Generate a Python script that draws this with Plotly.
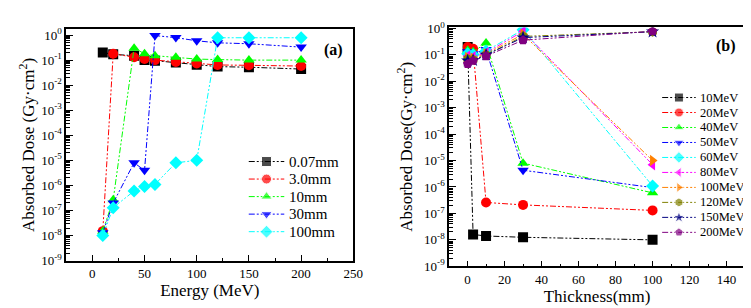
import plotly.graph_objects as go

# ---------------- data: panel (a) ----------------
energy = [10, 20, 40, 50, 60, 80, 100, 120, 150, 200]
thick_labels = ["0.07mm", "3.0mm", "10mm", "30mm", "100mm"]
a_007 = [0.2, 0.17, 0.15, 0.1, 0.095, 0.08, 0.065, 0.055, 0.052, 0.044]
a_3 = [1.5e-8, 0.18, 0.13, 0.11, 0.1, 0.085, 0.074, 0.064, 0.062, 0.058]
a_10 = [1.5e-8, 2.7e-7, 0.3, 0.18, 0.15, 0.13, 0.11, 0.105, 0.1, 0.1]
a_30 = [1.3e-8, 2.0e-7, 8e-6, 4e-6, 0.95, 0.79, 0.59, 0.49, 0.45, 0.33]
a_100 = [1.0e-8, 1.3e-7, 6e-7, 9e-7, 1.1e-6, 8e-6, 1e-5, 0.78, 0.78, 0.78]
a_series = [a_007, a_3, a_10, a_30, a_100]

# ---------------- data: panel (b) ----------------
thickness = [0.07, 3.0, 10, 30, 100]
energy_labels = ["10MeV", "20MeV", "40MeV", "50MeV", "60MeV",
                 "80MeV", "100MeV", "120MeV", "150MeV", "200MeV"]
b_10 = [0.2, 1.6e-8, 1.4e-8, 1.25e-8, 1.0e-8]
b_20 = [0.2, 0.17, 2.6e-7, 2.1e-7, 1.3e-7]
b_40 = [0.15, 0.13, 0.28, 8e-6, 6e-7]
b_50 = [0.13, 0.11, 0.16, 4.3e-6, 9.5e-7]
b_60 = [0.11, 0.1, 0.14, 0.9, 1.1e-6]
b_80 = [0.09, 0.085, 0.12, 0.78, 7e-6]
b_100 = [0.08, 0.075, 0.11, 0.6, 1e-5]
b_120 = [0.07, 0.065, 0.1, 0.5, 0.75]
b_150 = [0.06, 0.062, 0.1, 0.45, 0.75]
b_200 = [0.045, 0.06, 0.09, 0.36, 0.78]
b_series = [b_10, b_20, b_40, b_50, b_60, b_80, b_100, b_120, b_150, b_200]

colors = ["#000000", "#FF0000", "#00FF00", "#0000FF", "#00FFFF",
          "#FF00FF", "#FF8000", "#808000", "#000080", "#800080"]
symbols = ["square", "circle", "triangle-up", "triangle-down", "diamond",
           "triangle-left", "triangle-right", "hexagon", "star", "pentagon"]
DASH = "6px,2px,2px,2px,2px,2px"
FONT = "Liberation Serif"
W, H = 751, 308

fig = go.Figure()
for i, (name, ys) in enumerate(zip(thick_labels, a_series)):
    fig.add_trace(go.Scatter(
        x=energy, y=ys, name=name, mode="lines+markers", showlegend=False,
        line=dict(color=colors[i], width=1, dash=DASH),
        marker=dict(symbol=symbols[i], color=colors[i], size=10),
        xaxis="x", yaxis="y"))

for i, (name, ys) in enumerate(zip(energy_labels, b_series)):
    fig.add_trace(go.Scatter(
        x=thickness, y=ys, name=name, mode="lines+markers", showlegend=False,
        line=dict(color=colors[i], width=1, dash=DASH),
        marker=dict(symbol=symbols[i], color=colors[i], size=10),
        xaxis="x2", yaxis="y2"))

# ---------- compact legends drawn on a pixel-space overlay axis ----------
annotations = []


def add_legend(labels, x_line0, x_line1, x_text, y_first, dy, msize, fsize):
    for i, lab in enumerate(labels):
        yy = y_first + i * dy
        xm = (x_line0 + x_line1) / 2
        fig.add_trace(go.Scatter(
            x=[x_line0, xm, x_line1], y=[yy, yy, yy], mode="lines+markers",
            showlegend=False, hoverinfo="skip",
            line=dict(color=colors[i], width=1, dash=DASH),
            marker=dict(symbol=symbols[i], color=colors[i], size=[0, msize, 0]),
            xaxis="x3", yaxis="y3"))
        annotations.append(dict(text=lab, x=x_text, y=yy, xref="x3", yref="y3",
                                xanchor="left", yanchor="middle", showarrow=False,
                                font=dict(family=FONT, size=fsize, color="black")))


add_legend(thick_labels, 244, 280, 283, 153.5, 18.5, 10, 15)
add_legend(energy_labels, 663, 697, 699, 86, 15.8, 9, 12.5)

decades = list(range(-9, 1))
tickvals = [10.0 ** d for d in decades]
ticktext = ["10<sup>%d</sup>" % d for d in decades]

axis_common = dict(showline=True, linecolor="black", linewidth=1.5, mirror=True,
                   ticks="inside", tickcolor="black", showgrid=False, zeroline=False,
                   tickfont=dict(family=FONT, size=13, color="black"))

fig.update_layout(
    width=W, height=H,
    margin=dict(l=0, r=0, t=0, b=0),
    paper_bgcolor="white", plot_bgcolor="rgba(0,0,0,0)",
    font=dict(family=FONT, color="black"),
    showlegend=False,
    xaxis=dict(domain=[0.0786, 0.466], range=[-25, 250], tickvals=[0, 50, 100, 150, 200, 250],
               minor=dict(ticks="inside", dtick=25, ticklen=3, tickcolor="black"),
               ticklen=6, anchor="y",
               title=dict(text="Energy (MeV)", font=dict(family=FONT, size=17), standoff=4),
               **axis_common),
    yaxis=dict(domain=[0.1623, 0.9545], type="log", range=[-9, 0.23],
               tickvals=tickvals, ticktext=ticktext, ticklen=7, anchor="x",
               minor=dict(ticks="inside", ticklen=4, tickcolor="black", dtick="D1"),
               title=dict(text="Absorbed Dose (Gy·cm<sup>2</sup>)", font=dict(family=FONT, size=17), standoff=2),
               **axis_common),
    xaxis2=dict(domain=[0.5952, 0.9947], range=[-10, 150], tickvals=list(range(0, 141, 20)),
                minor=dict(ticks="inside", dtick=10, ticklen=3, tickcolor="black"),
                ticklen=6, anchor="y2",
                title=dict(text="Thickness(mm)", font=dict(family=FONT, size=17), standoff=4),
                **axis_common),
    yaxis2=dict(domain=[0.1429, 0.961], type="log", range=[-9, 0.04],
                tickvals=tickvals, ticktext=ticktext, ticklen=7, anchor="x2",
                minor=dict(ticks="inside", ticklen=4, tickcolor="black", dtick="D1"),
                title=dict(text="Absorbed Dose(Gy·cm<sup>2</sup>)", font=dict(family=FONT, size=17), standoff=7),
                **axis_common),
    xaxis3=dict(domain=[0, 1], range=[0, W], visible=False, fixedrange=True, anchor="y3"),
    yaxis3=dict(domain=[0, 1], range=[H, 0], visible=False, fixedrange=True, anchor="x3"),
    annotations=annotations + [
        dict(text="<b>(a)</b>", x=0.455, y=0.92, xref="paper", yref="paper",
             xanchor="right", yanchor="top", showarrow=False, font=dict(family=FONT, size=16)),
        dict(text="<b>(b)</b>", x=0.985, y=0.935, xref="paper", yref="paper",
             xanchor="right", yanchor="top", showarrow=False, font=dict(family=FONT, size=16)),
    ],
)

fig.write_html("out.html")
